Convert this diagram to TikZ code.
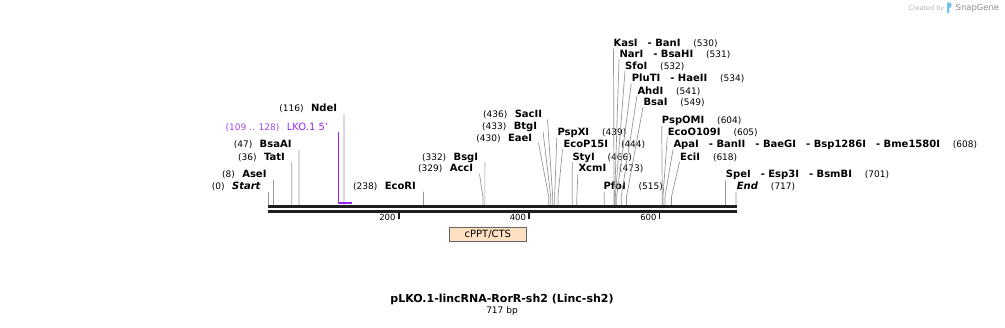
\documentclass[tikz,border=0pt]{standalone}
\usepackage{fontspec}
\setmainfont{DejaVu Sans}
\definecolor{linegray}{RGB}{150,150,150}
\definecolor{bardark}{RGB}{30,30,30}
\definecolor{primpurple}{RGB}{150,40,240}
\definecolor{primlabel}{RGB}{165,70,235}
\definecolor{peach}{RGB}{255,224,192}
\definecolor{boxedge}{RGB}{100,100,100}
\definecolor{sgblue}{RGB}{110,195,240}
\newcommand\sep{\hspace{10pt}- }
% right-hand label: name at left x, number after it
\newcommand\Rl[5]{\node[nm] (#1) at (#2,{#3+3.6}) {#4};
  \node[num] (#1n) at ([xshift=12.5pt]#1.base east) {#5};}
% left-hand label: name ends at x, number before it
\newcommand\Ll[5]{\node[nml] (#1) at (#2,{#3+3.6}) {#4};
  \node[numl] (#1n) at ([xshift=-7pt]#1.base west) {#5};}
\newcommand\Site[4]{%
  \coordinate (#1-b) at ({268.3+0.6523*#2},205.3);
  \coordinate (#1-k) at ({268.3+0.6523*#2},197);
  \coordinate (#1-t) at (#3,#4);
  \draw[ln] (#1-b) -- (#1-k) -- (#1-t);}
\newcommand\Tick[2]{%
  \coordinate (#1-a) at ({268.3+0.6523*#2},212.5);
  \coordinate (#1-z) at ({268.3+0.6523*#2},219);
  \draw[tickline] (#1-a) -- (#1-z);
  \node[ticklab] (#1-l) at ({268.3+0.6523*#2-3},220.8) {#2};}
\begin{document}
\begin{tikzpicture}[x=1pt,y=-1pt,
  nm/.style={font=\fontsize{10}{12}\selectfont\bfseries, inner sep=0pt, anchor=base west},
  nml/.style={nm, anchor=base east},
  num/.style={font=\fontsize{9}{11}\selectfont, inner sep=0pt, anchor=base west},
  numl/.style={num, anchor=base east},
  ticklab/.style={font=\fontsize{8.5}{10}\selectfont, inner sep=0pt, anchor=base east},
  ln/.style={draw=linegray, line width=0.7pt},
  barline/.style={draw=bardark, line width=3pt},
  tickline/.style={draw=bardark, line width=1.6pt},
  primer/.style={draw=primpurple, line width=1.6pt},
]
\useasboundingbox (0,0) rectangle (1005,327);

% ---- cut sites: left labels
\Site{s0}{0}{268.3}{191.7}
\Ll{start}{261}{186}{\textit{Start}}{(0)}
\Site{s8}{8}{273.5}{180}
\Ll{asei}{266.7}{174.3}{AseI}{(8)}
\Site{s36}{36}{291.8}{162}
\Ll{tati}{285}{156.7}{TatI}{(36)}
\Site{s47}{47}{299}{150}
\Ll{bsaai}{291.7}{144.3}{BsaAI}{(47)}
\Site{s116}{116}{344}{114}
\Ll{ndei}{337.3}{108.3}{NdeI}{(116)}
\Site{s238}{238}{423.5}{191.5}
\Ll{ecori}{416}{186}{EcoRI}{(238)}
\Site{s332}{332}{484.9}{162}
\Ll{bsgi}{478.3}{156.7}{BsgI}{(332)}
\Site{s329}{329}{479.5}{174}
\Ll{acci}{473.3}{168.3}{AccI}{(329)}
\Site{s436}{436}{547.5}{119.5}
\Ll{sacii}{542.3}{114.3}{SacII}{(436)}
\Site{s433}{433}{543}{131.5}
\Ll{btgi}{537.3}{126}{BtgI}{(433)}
\Site{s430}{430}{538.5}{143}
\Ll{eaei}{532.3}{137.7}{EaeI}{(430)}

% ---- cut sites: right labels
\Site{s439}{439}{556.8}{137.5}
\Rl{pspxi}{557.3}{132.3}{PspXI}{(439)}
\Site{s444}{444}{562.5}{149.5}
\Rl{ecop}{563.3}{144}{EcoP15I}{(444)}
\Site{s466}{466}{572.3}{162}
\Rl{styi}{572.3}{156.7}{StyI}{(466)}
\Site{s473}{473}{577.8}{174}
\Rl{xcmi}{578.3}{168.3}{XcmI}{(473)}
\Site{s515}{515}{604.2}{191.5}
\Rl{pfoi}{603.3}{186}{PfoI}{(515)}
\Site{s530}{530}{613.5}{48.5}
\Rl{kasi}{613.3}{43.3}{KasI\sep BanI}{(530)}
\Site{s531}{531}{619}{59.5}
\Rl{nari}{619.3}{54.3}{NarI\sep BsaHI}{(531)}
\Site{s532}{532}{625}{71}
\Rl{sfoi}{625}{65.7}{SfoI}{(532)}
\Site{s534}{534}{631.3}{83.5}
\Rl{pluti}{631.7}{78.3}{PluTI\sep HaeII}{(534)}
\Site{s541}{541}{637}{96}
\Rl{ahdi}{637.3}{90.7}{AhdI}{(541)}
\Site{s549}{549}{643}{107}
\Rl{bsai}{643.3}{101.7}{BsaI}{(549)}
\Site{s604}{604}{661.7}{125.5}
\Rl{pspomi}{661.7}{120}{PspOMI}{(604)}
\Site{s605}{605}{667.3}{137}
\Rl{ecoo}{667.7}{131.7}{EcoO109I}{(605)}
\Site{s608}{608}{673}{149.5}
\Rl{apai}{673.3}{144.3}{ApaI\sep BanII\sep BaeGI\sep Bsp1286I\sep Bme1580I}{(608)}
\Site{s618}{618}{679.5}{162}
\Rl{ecii}{680}{156.7}{EciI}{(618)}
\Site{s701}{701}{725.6}{179.5}
\Rl{spei}{725.7}{174}{SpeI\sep Esp3I\sep BsmBI}{(701)}
\Site{s717}{717}{736}{191.5}
\Rl{end}{736.7}{186}{\textit{End}}{(717)}

% ---- primer LKO.1 5'
\coordinate (p1) at (338.3,132);
\coordinate (p2) at (338.3,202.7);
\coordinate (p3) at (351.5,202.7);
\draw[primer] (p1) -- (p2) -- (p3);
\node[anchor=base east, inner sep=0pt, text=primpurple, font=\fontsize{10}{12}\selectfont] (lko) at (328.3,130.3) {LKO.1 5'};
\node[numl, text=primlabel] (lkon) at ([xshift=-7pt]lko.base west) {(109 .. 128)};

% ---- sequence bar
\coordinate (b0) at (268,206.8);
\coordinate (b1) at (736.7,206.8);
\coordinate (c0) at (268,211.5);
\coordinate (c1) at (736.7,211.5);
\draw[barline] (b0) -- (b1);
\draw[barline] (c0) -- (c1);

% ---- ruler ticks
\Tick{t200}{200}
\Tick{t400}{400}
\Tick{t600}{600}

% ---- feature
\node[draw=boxedge, fill=peach, line width=0.7pt, minimum width=77.7pt, minimum height=14.4pt, inner sep=0pt,
      font=\fontsize{10}{12}\selectfont] (cppt) at (487.85,234.5) {cPPT/CTS};

% ---- title
\node[font=\fontsize{11}{13}\selectfont\bfseries, inner sep=0pt] (title) at (502,299) {pLKO.1-lincRNA-RorR-sh2 (Linc-sh2)};
\node[font=\fontsize{9}{11}\selectfont, inner sep=0pt] (len) at (502,311.5) {717 bp};

% ---- credit
\node[anchor=base east, inner sep=0pt, text=black!30, font=\fontsize{6.5}{8}\selectfont] (cred) at (944.5,10) {Created by};
\fill[sgblue] (947,2.5) rectangle (949.3,13) (949.3,2.5) .. controls (952.5,2.5) and (952.5,8) .. (949.3,8) -- cycle;
\node[anchor=base west, inner sep=0pt, text=black!45, font=\fontsize{8.4}{10}\selectfont] (sg) at (955.5,10.5) {SnapGene};
\end{tikzpicture}
\end{document}
